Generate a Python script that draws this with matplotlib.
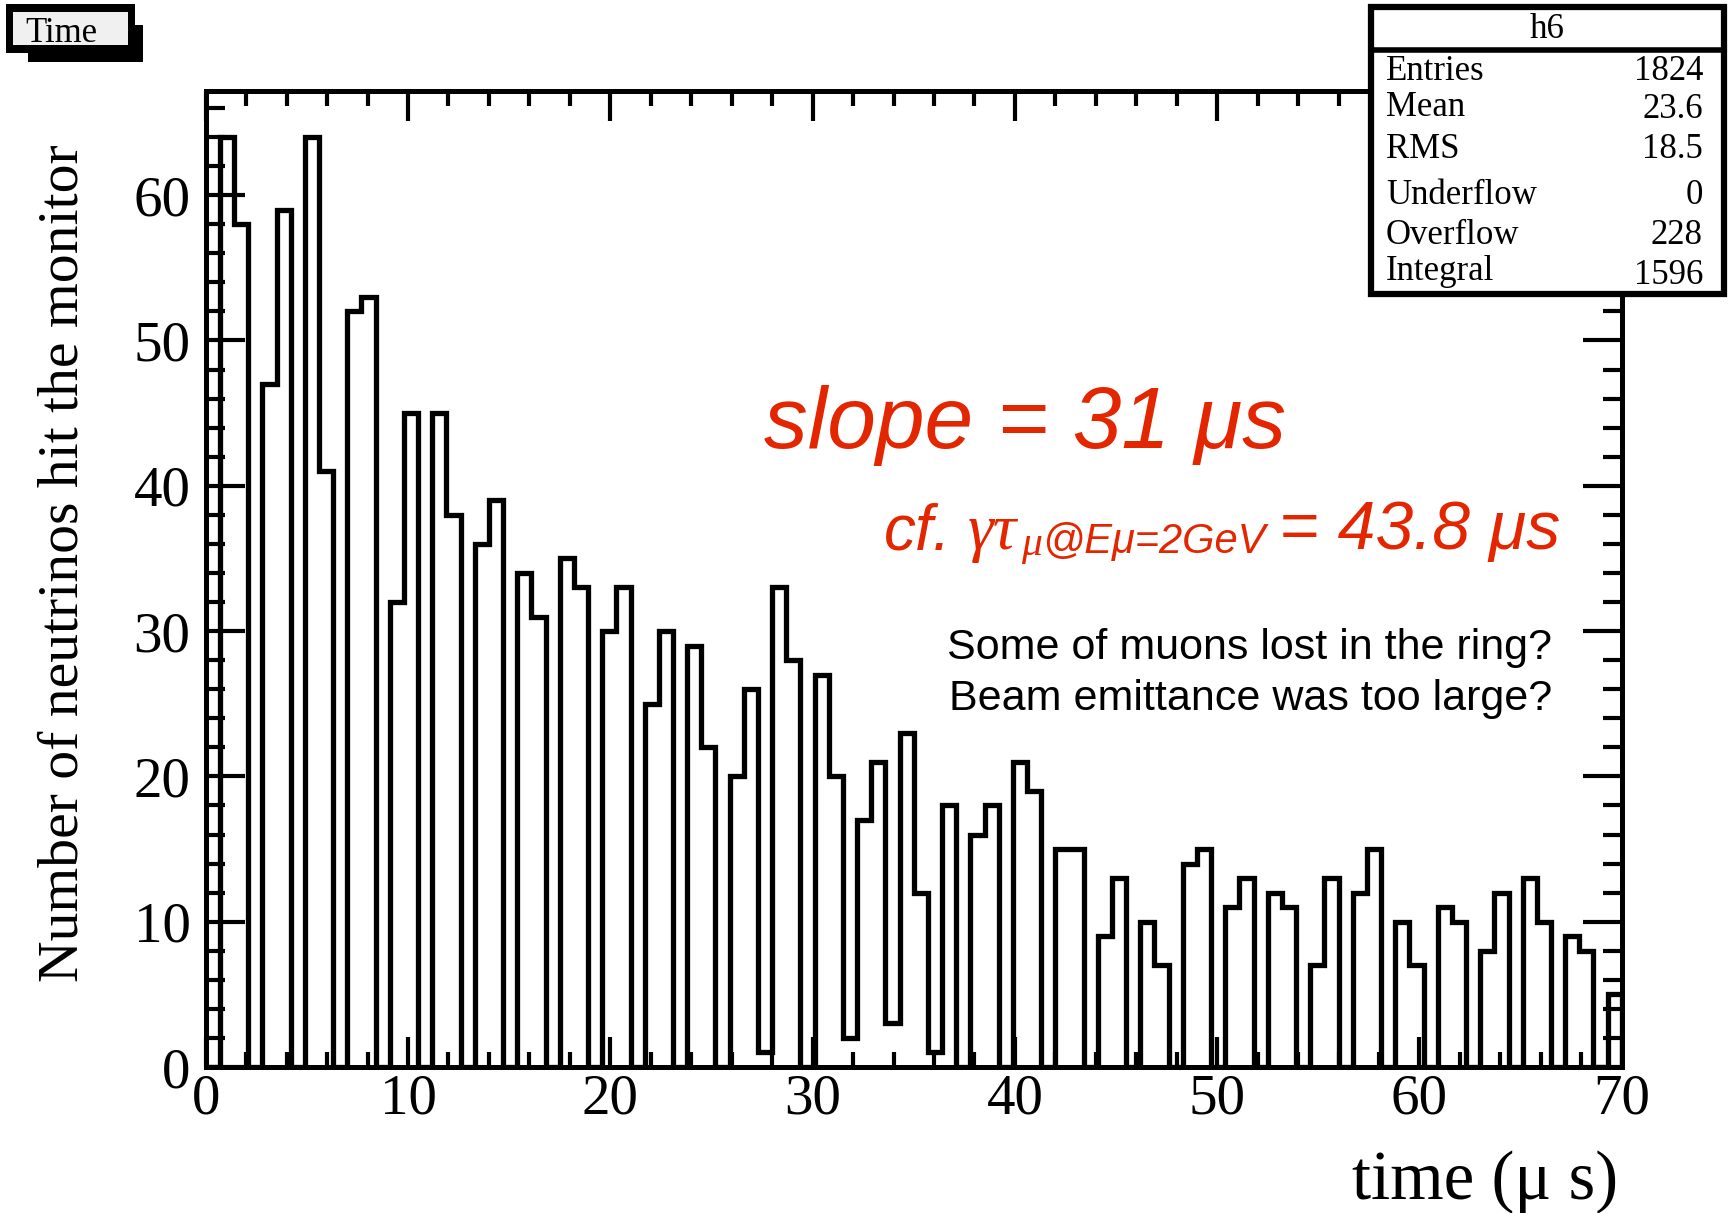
import numpy as np
import matplotlib
matplotlib.use('Agg')
import matplotlib.pyplot as plt
from matplotlib.patches import Rectangle
from matplotlib.lines import Line2D
from matplotlib.ticker import MultipleLocator

# histogram h6: 100 bins between 0 and 70 us
n_bins = 100
x_min, x_max = 0.0, 70.0
counts = [
    0, 64, 58, 0, 47, 59, 0, 64, 41, 0,
    52, 53, 0, 32, 45, 0, 45, 38, 0, 36,
    39, 0, 34, 31, 0, 35, 33, 0, 30, 33,
    0, 25, 30, 0, 29, 22, 0, 20, 26, 1,
    33, 28, 0, 27, 20, 2, 17, 21, 3, 23,
    12, 1, 18, 0, 16, 18, 0, 21, 19, 0,
    15, 15, 0, 9, 13, 0, 10, 7, 0, 14,
    15, 0, 11, 13, 0, 12, 11, 0, 7, 13,
    0, 12, 15, 0, 10, 7, 0, 11, 10, 0,
    8, 12, 0, 13, 10, 0, 9, 8, 0, 5,
]
x_ticks = [0, 10, 20, 30, 40, 50, 60, 70]
y_ticks = [0, 10, 20, 30, 40, 50, 60]

# stats box
stat_title = 'h6'
stat_names = ['Entries', 'Mean', 'RMS', 'Underflow', 'Overflow', 'Integral']
stat_values = ['1824', '23.6', '18.5', '0', '228', '1596']

W, H = 1730, 1213
RED = '#e32600'

plt.rcParams['font.family'] = ['Liberation Serif', 'DejaVu Serif']

fig = plt.figure(figsize=(W / 100, H / 100), dpi=100)


def fx(px):
    return px / W


def fy(py):
    return 1 - py / H


ax = fig.add_axes([fx(205.7), fy(1067), fx(1621.8) - fx(205.7), fy(90.5) - fy(1067)])

edges = np.linspace(x_min, x_max, n_bins + 1)
ax.stairs(counts, edges, color='black', linewidth=3.8, baseline=0)

ax.set_xlim(x_min, x_max)
ax.set_ylim(0, max(counts) * 1.05)

ax.set_xticks(x_ticks)
ax.set_yticks(y_ticks)
ax.xaxis.set_minor_locator(MultipleLocator(2))
ax.yaxis.set_minor_locator(MultipleLocator(2))
ax.tick_params(which='both', direction='in', top=True, right=True, width=3,
               labelsize=41)
ax.tick_params(axis='y', which='major', length=28, pad=11)
ax.tick_params(axis='y', which='minor', length=14)
ax.tick_params(axis='x', which='major', length=21.5, pad=5)
ax.tick_params(axis='x', which='minor', length=10.5)
for s in ax.spines.values():
    s.set_linewidth(3.6)

# axis titles
fig.text(fx(64), fy(563), 'Number of neutrinos hit the monitor', rotation=90,
         ha='center', va='center', fontsize=41.5)
fig.text(fx(1618), fy(1199), 'time (μ s)', ha='right', va='baseline', fontsize=49.5)

# annotations
fig.text(fx(764), fy(448), 'slope = 31 μs', color=RED, fontsize=63,
         family='Liberation Sans', style='italic', va='baseline')
fig.text(fx(884), fy(549), 'cf.', color=RED, fontsize=46,
         family='Liberation Sans', style='italic', va='baseline')
fig.text(fx(968), fy(549), 'γτ', color=RED, fontsize=47,
         family='Liberation Serif', style='italic', va='baseline')
fig.text(fx(1021), fy(555), 'μ', color=RED, fontsize=30,
         family='Liberation Serif', style='italic', va='baseline')
fig.text(fx(1042), fy(553), '@Eμ=2GeV', color=RED, fontsize=30,
         family='Liberation Sans', style='italic', va='baseline')
fig.text(fx(1279), fy(549), '= 43.8 μs', color=RED, fontsize=49,
         family='Liberation Sans', style='italic', va='baseline')

fig.text(fx(1552), fy(659), 'Some of muons lost in the ring?', fontsize=31,
         family='Liberation Sans', ha='right', va='baseline')
fig.text(fx(1552), fy(710), 'Beam emittance was too large?', fontsize=31,
         family='Liberation Sans', ha='right', va='baseline')

# stats box (drawn over the top-right corner of the frame)
fig.add_artist(Rectangle((fx(1371), fy(294)), fx(1724) - fx(1371), fy(7) - fy(294),
                         transform=fig.transFigure, facecolor='white',
                         edgecolor='black', linewidth=4.5, zorder=10))
fig.add_artist(Line2D([fx(1371), fx(1724)], [fy(50), fy(50)], transform=fig.transFigure,
                      color='black', linewidth=4, zorder=11))
fig.text(fx(1547), fy(30), stat_title, ha='center', va='center', fontsize=25, zorder=12)
row_y = [71, 107, 150, 196, 236, 271]
val_y = [71, 110, 150, 196, 236, 276]
for name, val, ry, vy in zip(stat_names, stat_values, row_y, val_y):
    fig.text(fx(1386), fy(ry), name, ha='left', va='center', fontsize=25, zorder=12)
    fig.text(fx(1703), fy(vy), val, ha='right', va='center', fontsize=25, zorder=12)

# "Time" title box with shadow
fig.add_artist(Rectangle((fx(28), fy(62)), fx(143) - fx(28), fy(25) - fy(62),
                         transform=fig.transFigure, facecolor='black',
                         edgecolor='none', zorder=10))
fig.add_artist(Rectangle((fx(6), fy(53)), fx(135) - fx(6), fy(4) - fy(53),
                         transform=fig.transFigure, facecolor='black',
                         edgecolor='none', zorder=10))
fig.add_artist(Rectangle((fx(13), fy(45)), fx(128) - fx(13), fy(12) - fy(45),
                         transform=fig.transFigure, facecolor='#f0f0f0',
                         edgecolor='none', zorder=11))
fig.text(fx(25), fy(42), 'Time', ha='left', va='baseline', fontsize=25, zorder=12)

fig.savefig('out.png', dpi=100)
